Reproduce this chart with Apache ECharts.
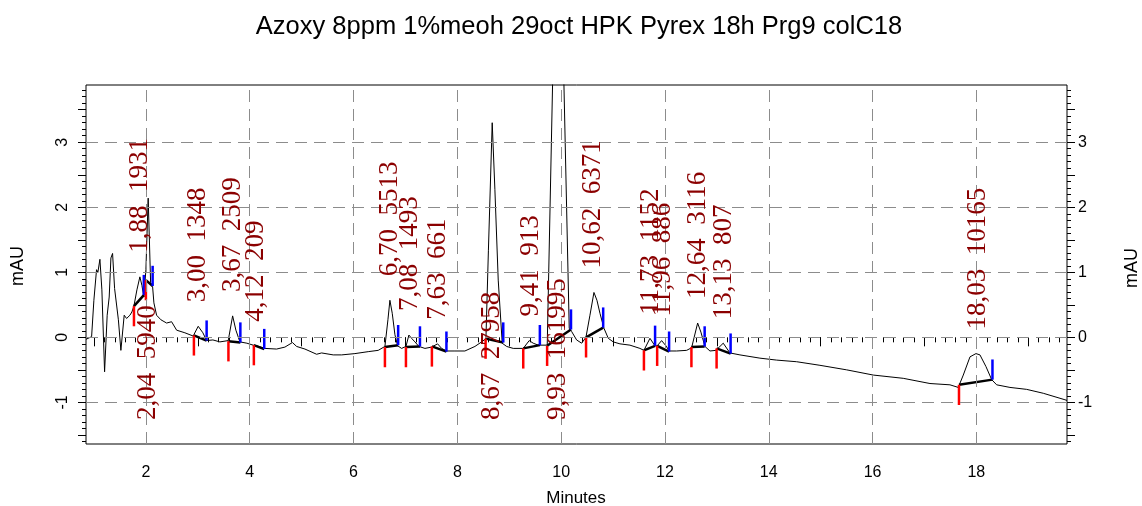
<!DOCTYPE html>
<html>
<head>
<meta charset="utf-8">
<script src="https://cdn.jsdelivr.net/npm/echarts@6/dist/echarts.min.js"></script>
<style>html,body{margin:0;padding:0;background:#fff;}#chart{width:1142px;height:506px;}</style>
</head>
<body>
<div id="chart"></div>
<script>
// ---- data ----
const titleText = 'Azoxy 8ppm 1%meoh 29oct HPK Pyrex 18h Prg9 colC18';
const xTickLabels = [2, 4, 6, 8, 10, 12, 14, 16, 18];
const yTickLabels = [-1, 0, 1, 2, 3];

const traceTime = [0.846,0.857,0.954,0.998,1.049,1.075,1.114,1.152,1.204,1.254,1.293,1.326,1.358,1.397,1.435,1.470,1.518,1.582,1.628,1.692,1.730,1.769,1.827,1.884,1.923,1.961,2.000,2.044,2.091,2.129,2.154,2.206,2.289,2.399,2.495,2.592,2.751,2.911,3.008,3.098,3.170,3.291,3.426,3.586,3.671,3.734,3.811,3.946,4.067,4.139,4.293,4.518,4.678,4.823,4.904,5.064,5.289,5.385,5.609,5.771,6.027,6.283,6.476,6.605,6.663,6.701,6.746,6.798,6.850,6.927,7.010,7.067,7.119,7.183,7.260,7.376,7.505,7.620,7.697,7.794,7.954,8.146,8.339,8.468,8.551,8.599,8.672,8.724,8.788,8.865,8.950,9.077,9.270,9.385,9.462,9.559,9.732,9.753,9.838,9.930,10.054,10.156,10.202,10.298,10.395,10.478,10.555,10.632,10.690,10.748,10.825,10.908,11.004,11.133,11.326,11.518,11.595,11.711,11.807,11.852,11.936,12.019,12.083,12.225,12.418,12.514,12.630,12.693,12.771,12.867,12.983,13.123,13.252,13.445,13.830,14.152,14.537,14.986,15.501,16.013,16.591,17.106,17.491,17.651,17.748,17.877,17.992,18.069,18.185,18.295,18.391,18.647,18.969,19.289,19.707,19.746];
const traceMAU = [-0.03,-0.03,0.01,0.57,1.04,1.00,1.20,0.73,-0.53,0.34,0.62,1.22,1.29,0.75,0.73,0.27,-0.20,0.34,0.29,0.34,0.39,0.48,0.73,0.93,0.80,0.62,1.04,2.14,0.84,0.78,0.53,0.34,0.27,0.22,0.24,0.11,0.07,0.02,0.17,0.07,-0.05,-0.04,-0.07,-0.05,0.33,0.11,-0.07,-0.09,-0.12,-0.13,-0.17,-0.18,-0.15,-0.08,-0.14,-0.18,-0.26,-0.24,-0.27,-0.27,-0.25,-0.22,-0.20,-0.14,0.27,0.57,0.37,0.04,-0.13,-0.17,-0.14,0.035,-0.015,-0.07,-0.14,-0.17,-0.15,-0.10,-0.17,-0.21,-0.21,-0.21,-0.14,-0.07,-0.02,1.34,3.30,2.27,0.88,-0.09,-0.14,-0.17,-0.17,-0.05,-0.09,-0.12,-0.12,-0.10,4.00,9.00,3.88,0.14,0.09,-0.04,-0.09,0.00,0.34,0.69,0.57,0.37,0.14,-0.015,-0.07,-0.10,-0.12,-0.17,-0.20,-0.015,-0.13,-0.13,-0.05,-0.13,-0.21,-0.21,-0.20,-0.16,0.22,0.08,-0.14,-0.21,-0.20,-0.09,-0.24,-0.27,-0.32,-0.35,-0.375,-0.43,-0.50,-0.58,-0.63,-0.71,-0.73,-0.77,-0.58,-0.30,-0.25,-0.27,-0.45,-0.65,-0.73,-0.77,-0.80,-0.86,-0.96,-0.97];

const peakRT    = [1.88, 2.04, 3.00, 3.67, 4.12, 6.70, 7.08, 7.63, 8.67, 9.41, 9.93, 10.62, 11.73, 11.96, 12.64, 13.13, 18.03];
const peakArea  = [1931, 5940, 1348, 2509, 209, 5513, 1493, 661, 27958, 913, 161995, 6371, 1152, 886, 3116, 807, 10165];
const peakApex  = [0.93, 2.14, 0.17, 0.33, -0.13, 0.57, 0.035, -0.10, 3.30, -0.05, 9.00, 0.69, -0.02, -0.05, 0.22, -0.09, -0.25];
const peakStart = [1.77, 2.00, 2.925, 3.59, 4.08, 6.605, 7.01, 7.51, 8.545, 9.27, 9.73, 10.48, 11.595, 11.85, 12.51, 12.995, 17.665];
const peakStartBase = [0.48, 0.88, 0.03, -0.06, -0.12, -0.15, -0.15, -0.14, -0.02, -0.17, -0.13, 0.00, -0.20, -0.13, -0.15, -0.17, -0.73];
const peakEnd   = [1.96, 2.13, 3.17, 3.82, 4.28, 6.86, 7.28, 7.79, 8.885, 9.59, 10.19, 10.81, 11.81, 12.08, 12.765, 13.265, 18.31];
const peakEndBase = [0.65, 0.79, -0.05, -0.08, -0.18, -0.12, -0.14, -0.22, -0.08, -0.12, 0.12, 0.15, -0.13, -0.22, -0.14, -0.25, -0.65];

// ---- chart ----
const X_MIN = 0.846, X_MAX = 19.746, Y_MIN = -1.64, Y_MAX = 3.88;
const trace = traceTime.map((t, i) => [t, traceMAU[i]]);
const peakMarks = peakRT.map((_, i) => [peakStart[i], peakStartBase[i], peakEnd[i], peakEndBase[i]]);
const peakLabels = peakRT.map((rt, i) => [rt, peakApex[i], peakArea[i]]);

function steps(from, to, step) {
  const out = [];
  const n = Math.round((to - from) / step);
  for (let k = 0; k <= n; k++) out.push(Math.round((from + k * step) * 1000) / 1000);
  return out;
}
const xMajorTicks = steps(1, 19, 1);
const xMinorTicks = steps(1, 19.6, 0.2);
const yMidTicks = steps(-1.5, 3.5, 0.5);
const yMinorTicks = steps(-1.6, 3.8, 0.1);

const sans = '"Liberation Sans", Arial, sans-serif';
const serif = '"Liberation Serif", "Times New Roman", serif';
const MARK_LEN = 0.31;
const LABEL_GAP = 24;
const BELOW_Y = -1.27;

function xAxisDef(ticks, len, labels) {
  return {
    type: 'value', min: X_MIN, max: X_MAX, position: 'bottom',
    axisLine: { show: false },
    axisTick: { show: true, customValues: ticks, length: len, lineStyle: { color: '#000', width: 1 } },
    axisLabel: labels ? { show: true, customValues: labels, color: '#000', fontFamily: sans, fontSize: 16, margin: 21 } : { show: false },
    splitLine: { show: false }
  };
}
function yAxisDef(pos, ticks, len, labels) {
  const lab = labels ? (pos === 'left'
      ? { show: true, customValues: labels, rotate: 90, color: '#000', fontFamily: sans, fontSize: 16, margin: 15 }
      : { show: true, customValues: labels, color: '#000', fontFamily: sans, fontSize: 16, margin: 11 })
    : { show: false };
  return {
    type: 'value', min: Y_MIN, max: Y_MAX, position: pos,
    axisLine: { show: false },
    axisTick: { show: true, customValues: ticks, length: len, lineStyle: { color: '#000', width: 1 } },
    axisLabel: lab,
    splitLine: { show: false }
  };
}

const chart = echarts.init(document.getElementById('chart'), null, { renderer: 'canvas' });
chart.setOption({
  animation: false,
  backgroundColor: '#fff',
  grid: { left: 86, right: 75, top: 85, bottom: 62, show: true, borderColor: '#000', borderWidth: 1, backgroundColor: 'transparent' },
  xAxis: [xAxisDef(xMajorTicks, 9, xTickLabels), xAxisDef(xMinorTicks, 5, null)],
  yAxis: [yAxisDef('left', yMidTicks, 8, yTickLabels), yAxisDef('left', yMinorTicks, 4, null),
          yAxisDef('right', yMidTicks, 8, yTickLabels), yAxisDef('right', yMinorTicks, 4, null)],
  graphic: [
    { type: 'text', x: 579, y: 27, style: { text: titleText, font: '25.5px ' + sans, fill: '#000', textAlign: 'center', textVerticalAlign: 'middle' } },
    { type: 'text', x: 576, y: 498, style: { text: 'Minutes', font: '17px ' + sans, fill: '#000', textAlign: 'center', textVerticalAlign: 'middle' } },
    { type: 'text', x: 18, y: 266, rotation: Math.PI / 2, style: { text: 'mAU', font: '18px ' + sans, fill: '#000', textAlign: 'center', textVerticalAlign: 'middle' } },
    { type: 'text', x: 1132, y: 268, rotation: Math.PI / 2, style: { text: 'mAU', font: '18px ' + sans, fill: '#000', textAlign: 'center', textVerticalAlign: 'middle' } }
  ],
  series: [
    {
      type: 'line', data: [], z: 1, silent: true,
      markLine: {
        silent: true, symbol: ['none', 'none'], label: { show: false }, animation: false,
        lineStyle: { type: [12, 7], color: '#8c8c8c', width: 1 },
        emphasis: { disabled: true },
        data: xTickLabels.map(v => ({ xAxis: v })).concat(yTickLabels.map(v => ({ yAxis: v })))
      }
    },
    {
      type: 'line', data: trace, showSymbol: false, symbol: 'none', z: 3, clip: true,
      lineStyle: { color: '#000', width: 1 }, silent: true
    },
    {
      type: 'custom', data: peakMarks, z: 4, silent: true, clip: false,
      renderItem: function (params, api) {
        const s = api.value(0), sb = api.value(1), e = api.value(2), eb = api.value(3);
        const p1 = api.coord([s, sb]), p2 = api.coord([e, eb]);
        const r2 = api.coord([s, sb - MARK_LEN]), b2 = api.coord([e, eb + MARK_LEN]);
        return { type: 'group', children: [
          { type: 'line', shape: { x1: p1[0], y1: p1[1], x2: p2[0], y2: p2[1] }, style: { stroke: '#000', lineWidth: 2.5 } },
          { type: 'line', shape: { x1: p1[0], y1: p1[1], x2: r2[0], y2: r2[1] }, style: { stroke: '#ff0000', lineWidth: 2.5 } },
          { type: 'line', shape: { x1: p2[0], y1: p2[1], x2: b2[0], y2: b2[1] }, style: { stroke: '#0000ff', lineWidth: 2.5 } }
        ] };
      }
    },
    {
      type: 'custom', data: peakLabels, z: 5, silent: true, clip: false,
      renderItem: function (params, api) {
        const rt = api.value(0), apex = api.value(1), area = api.value(2);
        const below = apex > 2;
        const p = api.coord([rt, below ? BELOW_Y : apex]);
        const y = below ? p[1] : p[1] - LABEL_GAP;
        return {
          type: 'text', x: p[0], y: y, rotation: Math.PI / 2,
          style: { text: rt.toFixed(2).replace('.', ',') + '  ' + area, font: '27px ' + serif, fill: '#8b0000', textAlign: 'left', textVerticalAlign: 'middle' }
        };
      }
    }
  ]
});
</script>
</body>
</html>
